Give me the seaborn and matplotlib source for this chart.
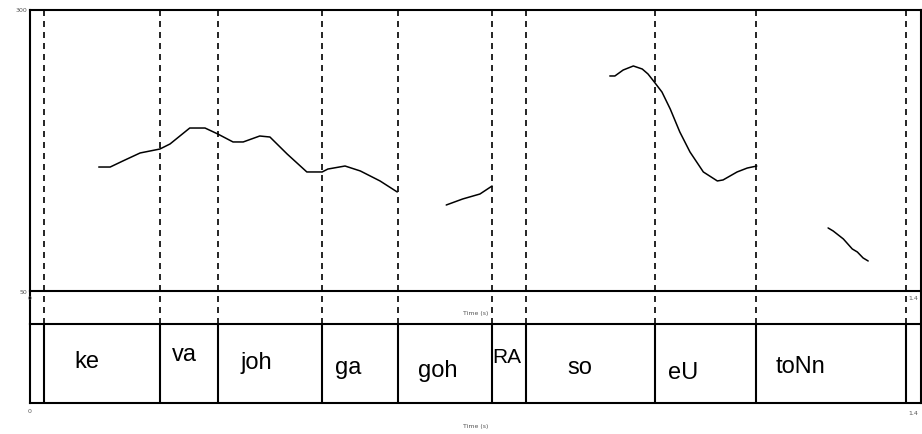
import numpy as np
import pandas as pd
import matplotlib
matplotlib.use("Agg")
import matplotlib.pyplot as plt
import matplotlib.transforms as mtransforms
import seaborn as sns

sns.set_style("white")
plt.rcParams["font.family"] = ["Liberation Sans", "DejaVu Sans"]

# ---- pitch track (time in s, F0 in Hz), one list per voiced stretch ----
seg1_time = [0.108, 0.126, 0.146, 0.173, 0.204, 0.220, 0.251, 0.275, 0.295, 0.319,
             0.335, 0.361, 0.377, 0.404, 0.435, 0.459, 0.468, 0.495, 0.519, 0.550, 0.577]
seg1_f0 = [160.3, 160.3, 165.7, 172.8, 176.3, 180.8, 195.0, 195.0, 189.7, 182.6,
           182.6, 187.9, 187.0, 171.9, 155.9, 155.9, 158.5, 161.2, 156.8, 147.9, 138.1]

seg2_time = [0.654, 0.680, 0.707, 0.726]
seg2_f0 = [126.5, 131.9, 136.3, 143.4]

seg3_time = [0.911, 0.919, 0.932, 0.948, 0.962, 0.971, 0.981, 0.993, 1.006, 1.021,
             1.037, 1.058, 1.080, 1.089, 1.111, 1.127, 1.142]
seg3_f0 = [241.3, 241.3, 246.6, 250.2, 247.5, 243.1, 235.9, 227.0, 211.9, 191.5,
           173.7, 155.9, 147.9, 148.8, 155.9, 159.4, 161.2]

seg4_time = [1.254, 1.262, 1.278, 1.292, 1.300, 1.309, 1.317]
seg4_f0 = [106.1, 103.4, 96.3, 87.4, 84.7, 79.4, 76.7]

# ---- syllable tier ----
boundaries = [0.022, 0.204, 0.295, 0.459, 0.578, 0.726, 0.779, 0.982, 1.141, 1.376]
syllables = ["ke", "va", "joh", "ga", "goh", "RA", "so", "eU", "toNn"]

# axis ranges / tick labels
t_min, t_max = 0.0, 1.4
f0_min, f0_max = 50, 300
x_tick_labels = ["0", "1.4"]
y_tick_labels = ["50", "300"]
axis_title = "Time (s)"

segments = [(seg1_time, seg1_f0), (seg2_time, seg2_f0),
            (seg3_time, seg3_f0), (seg4_time, seg4_f0)]
df = pd.concat(
    [pd.DataFrame({"time": t, "f0": f, "stretch": i}) for i, (t, f) in enumerate(segments)],
    ignore_index=True,
)

W, H = 922, 435
fig = plt.figure(figsize=(W / 100, H / 100), dpi=100)
fig.patch.set_facecolor("white")


def px_axes(left, top, right, bottom):
    return fig.add_axes([left / W, 1 - bottom / H, (right - left) / W, (bottom - top) / H])


ax_p = px_axes(30, 11, 921, 292)    # pitch panel
ax_m = px_axes(30, 292, 921, 325)   # strip between panels
ax_g = px_axes(30, 325, 921, 404)   # syllable tier

frame_lw = 1.5
dash_kw = dict(color="black", lw=1.2, linestyle=(0, (3.6, 3.0)))

for ax in (ax_p, ax_m, ax_g):
    ax.set_xlim(t_min, t_max)
    ax.set_facecolor("none")
    ax.set_xticks([])
    ax.set_yticks([])
    ax.set_xlabel("")
    ax.set_ylabel("")
    for s in ax.spines.values():
        s.set_color("black")
        s.set_linewidth(frame_lw)

ax_m.spines["top"].set_visible(False)
ax_m.spines["bottom"].set_visible(False)
ax_m.set_ylim(0, 1)
ax_g.set_ylim(0, 1)
ax_p.set_ylim(f0_min, f0_max)

# pitch contour
sns.lineplot(data=df, x="time", y="f0", units="stretch", estimator=None,
             color="black", lw=1.1, ax=ax_p, legend=False, sort=False)
ax_p.set_xlabel("")
ax_p.set_ylabel("")
ax_p.set_xticks([])
ax_p.set_yticks([])

# dashed boundary markers through pitch panel and middle strip
for b in boundaries:
    ax_p.axvline(b, **dash_kw, zorder=1)
    ax_m.axvline(b, **dash_kw, zorder=1)
    ax_g.axvline(b, color="black", lw=frame_lw, zorder=1)

# syllable labels (horizontal anchor offset within interval, vertical position)
label_dx = [0.048, 0.019, 0.036, 0.020, 0.032, 0.001, 0.066, 0.021, 0.030]
label_y = [0.53, 0.62, 0.52, 0.46, 0.42, 0.59, 0.46, 0.39, 0.47]
label_size = [17, 17, 17, 17, 17, 15, 17, 17, 17]
for lab, start, dx, yy, fs in zip(syllables, boundaries[:-1], label_dx, label_y, label_size):
    ax_g.text(start + dx, yy, lab, ha="left", va="center", fontsize=fs, color="black")

# small axis annotations
tiny = dict(fontsize=4.5, color="#555555", family=["DejaVu Sans"])
ax_p.text(-0.004, f0_max, y_tick_labels[1], ha="right", va="center", **tiny)
ax_p.text(-0.004, f0_min, y_tick_labels[0], ha="right", va="center", **tiny)

tr_m = mtransforms.blended_transform_factory(ax_m.transData, ax_m.transAxes)
ax_m.text(t_min, 0.8, x_tick_labels[0], ha="center", va="center", transform=tr_m, **tiny)
ax_m.text(t_max - 0.012, 0.8, x_tick_labels[1], ha="center", va="center", transform=tr_m, **tiny)
ax_m.text(0.701, 0.36, axis_title, ha="center", va="center", transform=tr_m, **tiny)

tr_g = mtransforms.blended_transform_factory(ax_g.transData, ax_g.transAxes)
ax_g.text(t_min, -0.10, x_tick_labels[0], ha="center", va="center", transform=tr_g, **tiny)
ax_g.text(t_max - 0.012, -0.12, x_tick_labels[1], ha="center", va="center", transform=tr_g, **tiny)
ax_g.text(0.701, -0.28, axis_title, ha="center", va="center", transform=tr_g, **tiny)

fig.savefig("out.png", dpi=100, facecolor="white")
